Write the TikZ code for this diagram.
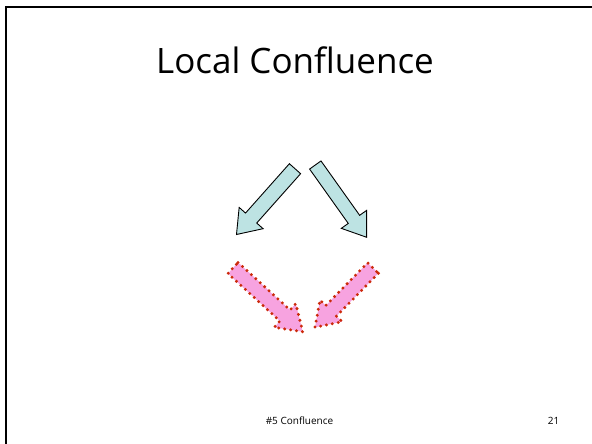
\documentclass[tikz,border=0pt]{standalone}
\usepackage{fontspec}
\setmainfont{Open Sans}
\usetikzlibrary{calc}
\definecolor{arrowblue}{HTML}{BDE3E3}
\definecolor{arrowpink}{HTML}{F7A3E0}
\definecolor{dotred}{HTML}{CC2A0A}
\tikzset{
  bluearrow/.style={draw=black, fill=arrowblue, line width=0.9pt, line join=miter},
  pinkarrow/.style={fill=arrowpink},
  pinkdots/.style={draw=dotred, line width=3.3pt, line cap=round, dash pattern=on 0pt off 6pt},
  frameline/.style={draw=black, line width=2pt},
}
% #1 tail, #2 tip, #3 shaft half width, #4 head half width, #5 head length, #6 style
\newcommand\fatarrowshape[6]{%
  \coordinate (fah) at ($(#2)!#5!(#1)$);
  \path[#6] ($(#1)!#3!90:(#2)$) -- ($(fah)!#3!-90:(#1)$) -- ($(fah)!#4!-90:(#1)$)
    -- (#2) -- ($(fah)!#4!90:(#1)$) -- ($(fah)!#3!90:(#1)$) -- ($(#1)!#3!-90:(#2)$) -- cycle;
}
\begin{document}
\begin{tikzpicture}[x=1pt,y=-1pt]
  \useasboundingbox (0,0) rectangle (592,444);
  % slide frame (top and left edges)
  \coordinate (ftr) at (592,7.3);
  \coordinate (ftl) at (5.7,7.3);
  \coordinate (fbl) at (5.7,444);
  \draw[frameline] (ftr) -- (ftl) -- (fbl);

  \node[font=\fontsize{35}{40}\selectfont, anchor=base] (title) at (295,73.5) {Local Confluence};

  % blue arrows
  \coordinate (b1tail) at (295,168.7);
  \coordinate (b1tip) at (236.5,234.5);
  \fatarrowshape{b1tail}{b1tip}{7.5pt}{16pt}{22pt}{bluearrow}
  \coordinate (b2tail) at (315.3,165);
  \coordinate (b2tip) at (366.7,237.3);
  \fatarrowshape{b2tail}{b2tip}{7pt}{15.5pt}{22pt}{bluearrow}

  % pink arrows
  \coordinate (p1tail) at (233,268);
  \coordinate (p1tip) at (302.7,331.7);
  \fatarrowshape{p1tail}{p1tip}{7.5pt}{16pt}{24pt}{pinkarrow}
  \fatarrowshape{p1tail}{p1tip}{7.5pt}{16pt}{24pt}{pinkdots}
  \coordinate (p2tail) at (373,268);
  \coordinate (p2tip) at (315,327.3);
  \fatarrowshape{p2tail}{p2tip}{7.5pt}{15.5pt}{23pt}{pinkarrow}
  \fatarrowshape{p2tail}{p2tip}{7.5pt}{15.5pt}{23pt}{pinkdots}

  \node[font=\fontsize{10}{12}\selectfont, anchor=base] (footer) at (299.5,424.5) {\#5 Confluence};
  \node[font=\fontsize{10}{12}\selectfont, anchor=base] (pagenum) at (553.5,424.5) {21};
\end{tikzpicture}
\end{document}
